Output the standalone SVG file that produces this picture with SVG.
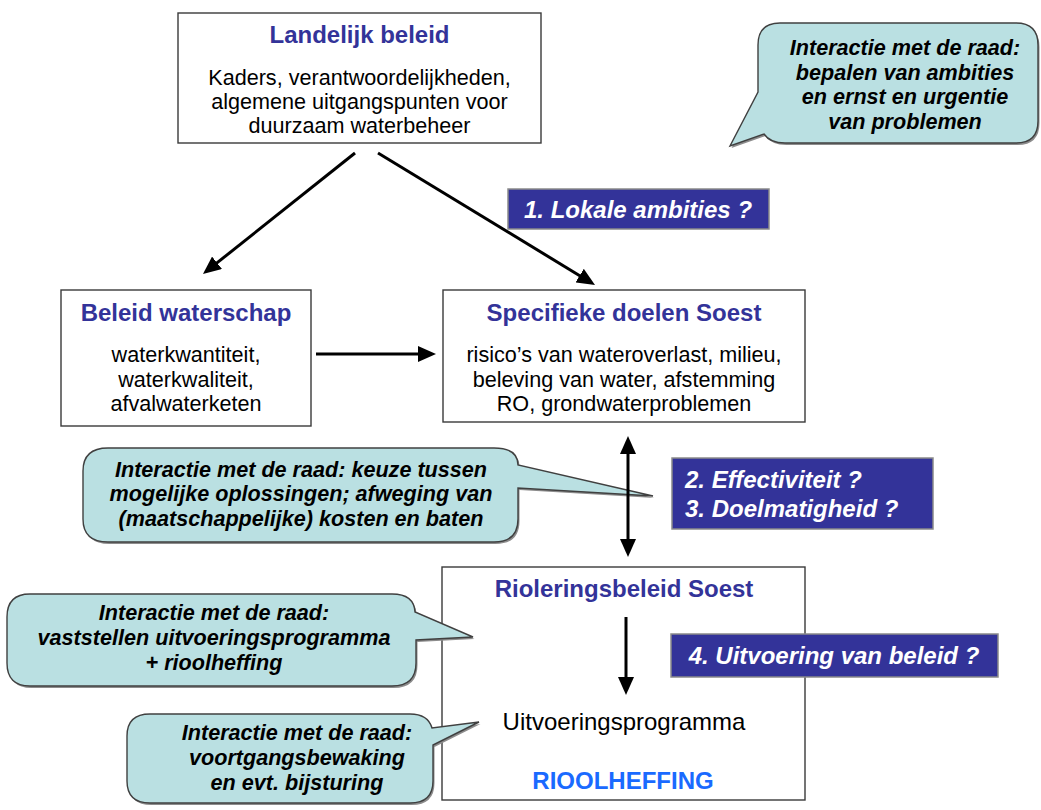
<svg xmlns="http://www.w3.org/2000/svg" xmlns:xlink="http://www.w3.org/1999/xlink" width="1041" height="810" viewBox="0 0 1041 810">
<style>
text{font-family:'Liberation Sans',Arial,sans-serif;text-anchor:middle}
.box{fill:#fff;stroke:#3a3a3a;stroke-width:1.4}
.ttl{font-size:24px;font-weight:bold;fill:#333399}
.body{font-size:21.6px;fill:#000}
.lbl{fill:#333399;stroke:#8a8a8a;stroke-width:1.5}
.lt{font-size:24px;font-weight:bold;font-style:italic;fill:#fff}
.bub{fill:#bae0e2;stroke:#404040;stroke-width:1.4}
.shd{fill:#8c8c8c}
.bt{font-size:21.6px;font-weight:bold;font-style:italic;fill:#000}
.con{stroke:#000;stroke-width:3;fill:none;marker-end:url(#ah)}
</style>
<defs>
<marker id="ah" markerUnits="userSpaceOnUse" markerWidth="18" markerHeight="16" refX="3" refY="8" orient="auto-start-reverse" viewBox="0 0 18 16">
<path d="M0,0 L18,8 L0,16 z" fill="#000"/>
</marker>
<path id="pTR" d="M780 23 H1016 Q1038 23 1038 45 V121 Q1038 143 1016 143 H785 Q770 143 764 134 L730 146 L758 92 V45 Q758 23 780 23 Z"/>
<path id="pM" d="M108 448 H494 Q518 448 518 465 L653 496 L518 488 V519 Q518 542 494 542 H108 Q83 542 83 519 V471 Q83 448 108 448 Z"/>
<path id="pB1" d="M30 594 H392 Q414 594 415 612 L473 637 L416 640 V663 Q416 686 392 686 H30 Q7 686 7 663 V617 Q7 594 30 594 Z"/>
<path id="pB2" d="M150 714 H410 Q428 714 432 728 L479 722 L433 745 V781 Q433 803 410 803 H150 Q127 803 127 781 V736 Q127 714 150 714 Z"/>
</defs>
<rect width="1041" height="810" fill="#fff"/>

<g id="landelijk">
<rect class="box" x="178" y="13" width="363" height="130"/>
<text class="ttl" x="359.5" y="43">Landelijk beleid</text>
<text class="body" x="359.5" y="85">Kaders, verantwoordelijkheden,</text>
<text class="body" x="359.5" y="109">algemene uitgangspunten voor</text>
<text class="body" x="359.5" y="133">duurzaam waterbeheer</text>
</g>

<g id="waterschap">
<rect class="box" x="61" y="290" width="250" height="136"/>
<text class="ttl" x="186" y="321">Beleid waterschap</text>
<text class="body" x="186" y="362">waterkwantiteit,</text>
<text class="body" x="186" y="387">waterkwaliteit,</text>
<text class="body" x="186" y="411">afvalwaterketen</text>
</g>

<g id="specifiek">
<rect class="box" x="443" y="290" width="362" height="132"/>
<text class="ttl" x="624" y="321">Specifieke doelen Soest</text>
<text class="body" x="624" y="362">risico’s van wateroverlast, milieu,</text>
<text class="body" x="624" y="387">beleving van water, afstemming</text>
<text class="body" x="624" y="411">RO, grondwaterproblemen</text>
</g>

<g id="riolering">
<rect class="box" x="442" y="567" width="363" height="233"/>
<text class="ttl" x="624" y="597">Rioleringsbeleid Soest</text>
<text class="body" x="624" y="730" style="font-size:24px">Uitvoeringsprogramma</text>
<text class="ttl" x="623" y="789" style="fill:#1a6aff">RIOOLHEFFING</text>
</g>

<g id="bubble-ambities">
<use xlink:href="#pTR" class="shd" transform="translate(1.5,2)"/>
<use xlink:href="#pTR" class="bub"/>
<text class="bt" x="905" y="55">Interactie met de raad:</text>
<text class="bt" x="905" y="80">bepalen van ambities</text>
<text class="bt" x="905" y="104">en ernst en urgentie</text>
<text class="bt" x="905" y="129">van problemen</text>
</g>

<g id="bubble-keuze">
<use xlink:href="#pM" class="shd" transform="translate(1.5,2)"/>
<use xlink:href="#pM" class="bub"/>
<text class="bt" x="301" y="477">Interactie met de raad: keuze tussen</text>
<text class="bt" x="301" y="501">mogelijke oplossingen; afweging van</text>
<text class="bt" x="301" y="526">(maatschappelijke) kosten en baten</text>
</g>

<g id="bubble-vaststellen">
<use xlink:href="#pB1" class="shd" transform="translate(1.5,2)"/>
<use xlink:href="#pB1" class="bub"/>
<text class="bt" x="214" y="620">Interactie met de raad:</text>
<text class="bt" x="214" y="645">vaststellen uitvoeringsprogramma</text>
<text class="bt" x="214" y="670">+ rioolheffing</text>
</g>

<g id="bubble-voortgang">
<use xlink:href="#pB2" class="shd" transform="translate(1.5,2)"/>
<use xlink:href="#pB2" class="bub"/>
<text class="bt" x="297" y="740">Interactie met de raad:</text>
<text class="bt" x="297" y="765">voortgangsbewaking</text>
<text class="bt" x="297" y="790">en evt. bijsturing</text>
</g>

<g id="label-ambities">
<rect class="lbl" x="508" y="189" width="261" height="40"/>
<text class="lt" x="638" y="218">1. Lokale ambities ?</text>
</g>

<g id="label-effectiviteit">
<rect class="lbl" x="672" y="458" width="261" height="71"/>
<text class="lt" x="685" y="488" style="text-anchor:start">2. Effectiviteit ?</text>
<text class="lt" x="685" y="517" style="text-anchor:start">3. Doelmatigheid ?</text>
</g>

<g id="label-uitvoering">
<rect class="lbl" x="671" y="634" width="327" height="43"/>
<text class="lt" x="834" y="664">4. Uitvoering van beleid ?</text>
</g>

<g id="connectors">
<line class="con" x1="355" y1="153" x2="214.7" y2="264.7"/>
<line class="con" x1="378" y1="153" x2="582.2" y2="277.2"/>
<line class="con" x1="316" y1="354" x2="421" y2="354"/>
<line class="con" x1="628" y1="451" x2="628" y2="542" style="marker-start:url(#ah)"/>
<line class="con" x1="626" y1="617" x2="626" y2="680"/>
</g>
</svg>
